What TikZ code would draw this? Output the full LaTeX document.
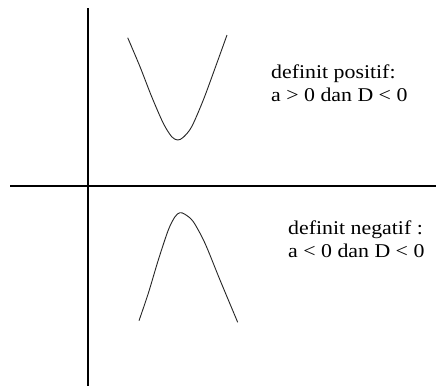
\documentclass[tikz,border=0pt]{standalone}
\usepackage{fontspec}
\setmainfont[FakeStretch=1.12]{Liberation Serif}
\begin{document}
\begin{tikzpicture}[x=1pt,y=-1pt,
  axis/.style={line width=1.2pt,black},
  curve/.style={line width=0.9pt,black!85,line join=round},
  lbl/.style={anchor=base west,inner sep=0pt,align=left,font=\fontsize{19.5}{22.5}\selectfont}]
\useasboundingbox[fill=white] (0,0) rectangle (440,389);
\coordinate (vtop) at (88,8);
\coordinate (vbot) at (88,386);
\coordinate (hl) at (10,186);
\coordinate (hr) at (436,186);
\draw[axis] (vtop) -- (vbot);
\draw[axis] (hl) -- (hr);
\draw[curve] plot[smooth,tension=0.5] coordinates {(127.7,37.7) (140,66.7) (151.7,96.7) (163.3,123.3) (171.7,136.7) (177.7,140) (183.3,137.3) (191.7,126.7) (203.3,100) (215,68.3) (227,35)};
\draw[curve] plot[smooth,tension=0.5] coordinates {(139,320.7) (148.3,293.3) (158.3,260) (168.3,230) (175,216.7) (180,212.7) (185,214.3) (193.3,221.7) (205,243.3) (220,280) (237.7,322.3)};
\node[lbl] (pos) at (271,101) {definit positif:\\a > 0 dan D < 0};
\node[lbl] (neg) at (288,257) {definit negatif :\\a < 0 dan D < 0};
\end{tikzpicture}
\end{document}
